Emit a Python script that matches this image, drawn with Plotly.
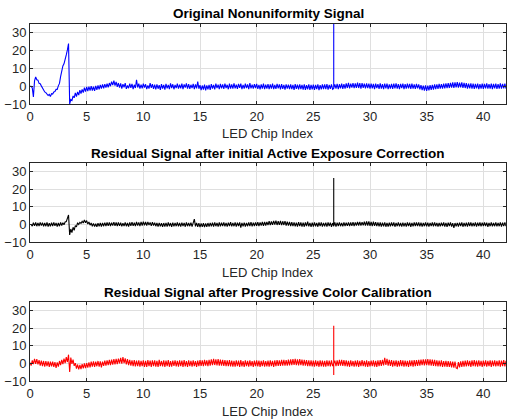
import plotly.graph_objects as go

# ---------------- data ----------------
# LED chip index, sampled every 0.1 from 0 to 42
led_index = [round(i * 0.1, 1) for i in range(421)]

original_signal = [
    0, 0, -1, -6, 3, 5.2, 3.6, 3.4, 1.6, 1.4,
    0.2, -1.2, -1.6, -3.2, -3.6, -4.8, -5.2, -4.6, -5.8, -4.2,
    -4.4, -3.2, -3.0, -1.8, -1.8, 0.2, 1.6, 5.4, 8.6, 11.4,
    12.6, 16.2, 17.6, 20.4, 24, -10, -7.5, -8, -5.5, -6.5,
    -3.8, -5.8, -3.2, -5.0, -2.2, -4.2, -1.8, -3.6, -0.8, -3.0,
    -0.4, -2.8, -0.2, -2.5, 0.0, -2.4, -0.3, -2.6, 0.2, -2.0,
    0.4, -1.8, 0.8, -1.4, 1.0, -1.2, 1.2, -0.8, 1.4, -0.6,
    1.8, 0.0, 2.6, 0.6, 3.2, 0.4, 2.4, -0.4, 1.8, -0.8,
    1.6, -1.3, 1.2, -0.6, 1.8, -1.5, 0.4, -1.1, 1.5, -0.9,
    1.3, -1.6, 0.8, -1.0, 3.6, -0.7, 1.4, -1.4, 0.9, -1.2,
    1.5, -0.8, 1.1, -1.6, 0.5, -1.3, 1.7, -0.9, 1.2, -1.5,
    0.9, -1.8, 1.0, -1.4, 0.6, -2.0, 1.2, -1.3, 0.7, -1.9,
    1.3, -1.2, 0.8, -1.6, 1.6, -1.0, 1.1, -1.7, 0.7, -1.1,
    1.5, -1.4, 0.9, -1.2, 1.4, -1.6, 1.0, -0.8, 1.6, -1.3,
    1.2, -1.5, 0.8, -1.1, 1.3, -1.6, 1.0, -1.2, 2.6, -1.4,
    0.6, -2.2, 0.4, -1.9, 0.9, -2.4, 0.5, -1.7, 0.8, -2.0,
    1.2, -1.4, 0.7, -1.8, 1.4, -1.1, 0.9, -1.6, 1.3, -1.2,
    1.0, -1.5, 1.4, -1.0, 0.8, -1.7, 1.5, -1.3, 1.1, -1.4,
    1.6, -1.2, 0.9, -1.5, 1.3, -0.9, 1.4, -1.6, 0.8, -1.3,
    1.5, -1.1, 1.0, -1.6, 1.7, -1.2, 0.9, -1.4, 1.2, -1.0,
    1.3, -1.5, 0.8, -1.8, 1.1, -1.3, 1.4, -1.6, 0.9, -1.4,
    1.2, -1.7, 1.0, -1.3, 1.5, -1.6, 0.7, -1.5, 1.3, -1.2,
    1.0, -1.8, 1.2, -1.5, 0.8, -1.9, 1.1, -1.4, 0.9, -1.7,
    1.1, -1.6, 0.7, -2.0, 1.2, -1.5, 0.9, -1.8, 1.0, -1.6,
    0.8, -1.9, 1.0, -2.1, 0.6, -1.7, 1.1, -2.0, 0.7, -1.8,
    0.9, -2.0, 0.8, -1.6, 1.0, -2.2, 0.6, -1.8, 1.1, -1.7,
    1.0, -1.6, 1.2, -1.9, 0.8, -1.5, 1.1, -1.7, -1.2, 1.0,
    -1.4, 1.3, -1.6, 1.1, -1.2, 1.4, -1.5, 1.2, -1.3, 1.6,
    -1.0, 1.9, -1.2, 1.5, -0.8, 1.8, -1.1, 1.6, -0.9, 2.0,
    -1.0, 1.7, -1.3, 1.8, -0.9, 1.5, -1.2, 1.6, -1.1, 1.4,
    -1.4, 1.5, -1.2, 1.3, -1.6, 1.4, -1.1, 1.2, -1.5, 1.6,
    -1.3, 1.2, -1.7, 1.4, -1.2, 1.5, -1.6, 1.1, -1.4, 1.3,
    -1.5, 1.4, -1.2, 1.6, -1.3, 1.2, -1.7, 1.3, -1.1, 1.5,
    -1.6, 1.2, -1.4, 1.5, -1.2, 1.3, -1.5, 1.4, -1.3, 1.1,
    -1.5, 1.3, -1.2, 1.0, -1.8, 0.6, -2.2, 0.4, -2.5, 0.5,
    -2.6, 0.3, -2.4, 0.6, -2.1, 0.8, -1.9, 1.0, -1.7, 1.1,
    -1.5, 1.3, -1.4, 1.2, -1.3, 1.5, -1.2, 1.6, -1.0, 1.7,
    -1.0, 1.9, -0.8, 2.1, -0.9, 2.2, -0.7, 2.3, -0.8, 2.0,
    -0.6, 2.2, -0.9, 1.9, -1.0, 1.7, -1.3, 1.5, -1.2, 1.6,
    -1.4, 1.4, -1.5, 1.3, -1.2, 1.5, -1.6, 1.2, -1.3, 1.4,
    -1.5, 1.3, -1.2, 1.6, -1.4, 1.2, -1.3, 1.5, -1.6, 1.3,
    -1.2, 1.4, -1.5, 1.2, -1.3, 1.6, -1.4, 1.3, -1.2, 1.5,
    -1.3]

active_residual = [
    0.0, 0.0, -1.0, 1.0, -0.8, 1.1, -1.0, 0.9, -0.9, 1.2,
    -0.7, 1.0, -1.1, 0.8, -1.0, 1.1, -1.2, 0.7, -1.1, 1.0,
    -0.9, 1.2, -0.8, 0.9, -1.2, 0.8, -1.0, 1.1, -0.6, 1.0,
    -0.2, 1.4, 1.6, 3.8, 5.4, -6.0, -2.6, -4.6, -1.6, -3.4,
    -0.6, -1.4, 1.0, 0.0, 1.2, 0.6, 1.8, 0.8, 2.6, 1.0,
    2.2, 0.2, 1.4, -0.4, 0.8, -1.0, 0.6, -1.2, 0.4, -1.3,
    0.7, -1.1, 0.8, -1.2, 0.9, -1.0, 1.0, -0.9, 1.1, -0.8,
    1.2, -0.9, 1.0, -0.7, 1.3, -0.8, 1.1, -0.9, 1.2, -0.8,
    1.0, -1.1, 0.7, -0.9, 1.2, -1.0, 0.8, -1.2, 1.1, -0.8,
    1.3, -0.8, 1.0, -1.0, 1.4, -0.7, 1.2, -0.9, 1.5, -0.6,
    1.6, -0.5, 1.4, -0.7, 1.5, -0.4, 1.2, -0.8, 1.3, -0.6,
    1.0, -1.0, 0.8, -1.2, 0.9, -1.1, 0.7, -1.3, 0.8, -1.2,
    0.9, -1.2, 1.1, -1.0, 0.8, -1.3, 1.0, -1.1, 0.9, -1.0,
    1.1, -1.1, 0.8, -1.2, 1.0, -0.9, 0.9, -1.3, 1.1, -1.0,
    0.9, -1.0, 1.0, -1.2, 0.8, 3.0, -1.1, 0.9, -1.3, 0.8,
    -1.5, 0.6, -1.4, 0.7, -1.5, 0.6, -1.3, 0.8, -1.2, 0.9,
    -1.1, 1.0, -1.2, 1.1, -1.0, 0.9, -1.2, 1.2, -1.1, 1.0,
    -1.0, 1.2, -1.1, 0.9, -1.2, 1.0, -0.9, 1.3, -1.1, 0.9,
    -1.0, 1.1, -1.2, 1.0, -0.9, 1.2, -1.8, 0.9, -1.1, 1.0,
    -1.2, 0.9, -1.0, 1.1, -0.9, 1.3, -1.1, 1.0, -0.9, 1.2,
    -0.8, 1.3, -0.9, 1.2, -0.7, 1.4, -0.8, 1.5, -0.6, 1.4,
    -0.4, 1.9, -0.3, 1.7, -0.2, 2.0, -0.1, 2.1, -0.3, 1.8,
    -0.2, 2.0, -0.4, 1.8, -0.3, 1.9, -0.6, 1.6, -0.7, 1.5,
    -0.9, 1.3, -1.0, 1.2, -1.1, 1.0, -1.2, 1.3, -1.0, 1.1,
    -1.2, 1.0, -1.3, 1.1, -1.0, 1.6, -1.1, 0.9, -1.4, 1.0,
    -1.2, 1.2, -1.1, 0.9, -1.3, 1.1, -1.0, 1.2, -1.2, 0.9,
    -1.1, 1.0, -1.2, 1.1, -0.9, 1.0, -1.3, 0.8, -1.0, 1.1,
    -1.2, 1.0, -0.9, 1.2, -1.0, 0.9, -1.1, 1.1, -0.9, 1.0,
    -0.8, 1.2, -0.9, 1.1, -0.8, 1.3, -0.9, 1.2, -0.7, 1.4,
    -0.6, 1.5, -0.7, 1.3, -0.5, 1.6, -0.7, 1.7, -0.6, 1.8,
    -0.8, 1.4, -0.9, 1.6, -0.8, 1.3, -1.0, 1.2, -1.1, 1.1,
    -1.2, 1.0, -1.1, 1.2, -1.3, 0.9, -1.2, 1.0, -1.1, 1.1,
    -1.0, 1.1, -1.3, 0.9, -1.0, 1.2, -1.1, 0.8, -1.2, 1.0,
    -1.1, 0.9, -1.2, 1.1, -1.0, 1.0, -1.3, 0.9, -1.1, 1.2,
    -0.9, 1.1, -1.0, 1.2, -1.1, 1.0, -1.2, 0.9, -1.0, 1.1,
    -1.1, 1.0, -1.2, 0.9, -0.9, 1.1, -1.1, 1.2, -1.0, 0.9,
    -1.2, 0.8, -1.1, 1.0, -1.0, 1.1, -1.2, 0.9, -1.3, 1.0,
    -1.0, 1.2, -1.2, 0.7, -2.0, 0.8, -1.1, 0.9, -1.2, 1.0,
    -1.0, 1.1, -1.3, 0.9, -1.1, 1.0, -1.2, 1.2, -0.9, 1.1,
    -1.1, 0.9, -1.0, 1.2, -1.2, 1.0, -0.9, 1.1, -1.1, 1.0,
    -1.0, 1.1, -0.9, 1.0, -1.3, 0.9, -1.0, 1.1, -1.1, 0.8,
    -1.0, 1.1, -1.1, 0.9, -1.0, 1.2, -1.2, 1.0, -0.9, 1.1,
    -1.0]

progressive_residual = [
    0.5, -1.2, 1.8, -0.4, 2.6, -0.2, 2.4, -0.5, 1.9, -1.2,
    1.6, -1.5, 1.4, -1.8, 1.3, -1.6, 1.2, -1.9, 1.0, -1.7,
    1.1, -1.9, 0.8, -2.6, 0.6, -1.8, 1.4, -1.0, 2.0, -0.4,
    2.8, 0.2, 3.6, 0.8, 5.0, -4.8, 3.4, -0.2, 2.2, -1.4,
    0.2, -3.0, -0.6, -3.4, -0.8, -3.2, -0.4, -2.8, 0.0, -2.6,
    0.2, -2.4, 0.6, -2.2, 1.0, -1.8, 1.2, -2.0, 1.1, -1.6,
    1.4, -1.8, 1.2, -2.2, 1.0, -1.4, 1.6, -1.2, 1.8, -1.0,
    2.0, -0.9, 2.2, -0.7, 2.4, -0.5, 2.6, -0.4, 2.8, 0.0,
    3.2, -0.1, 3.6, 0.2, 2.9, -0.5, 2.4, -0.9, 2.1, -1.2,
    1.8, -1.5, 1.9, -1.7, 1.6, -1.6, 1.8, -1.8, 1.5, -1.6,
    1.7, -1.9, 1.5, -2.0, 1.9, -1.6, 1.6, -2.0, 1.8, -1.5,
    1.7, -1.8, 1.5, -2.0, 2.0, -1.5, 1.4, -1.7, 1.7, -1.9,
    1.6, -1.6, 1.9, -1.9, 1.3, -1.8, 1.6, -1.4, 1.8, -1.7,
    1.5, -1.8, 1.8, -1.6, 1.6, -2.0, 1.9, -1.7, 1.4, -1.9,
    1.7, -1.6, 1.5, -1.8, 1.8, -1.5, 1.3, -2.0, 1.6, -1.6,
    1.9, -1.4, 1.7, -1.6, 2.0, -1.3, 1.8, -1.5, 2.1, -1.2,
    2.4, -1.0, 2.6, -0.9, 2.3, -1.1, 2.5, -1.2, 2.2, -1.3,
    2.0, -1.4, 1.9, -1.5, 1.7, -1.6, 1.9, -1.7, 1.6, -1.8,
    1.5, -1.8, 1.8, -1.6, 1.6, -2.0, 1.9, -1.7, 1.4, -1.9,
    1.7, -1.6, 1.5, -1.8, 1.8, -1.5, 1.3, -2.0, 1.6, -1.6,
    1.8, -1.7, 1.6, -1.9, 1.5, -1.6, 1.7, -1.8, 1.4, -1.7,
    1.6, -1.8, 1.8, -1.5, 1.5, -1.9, 1.7, -1.6, 1.9, -1.4,
    1.8, -1.4, 2.0, -1.2, 2.1, -1.3, 1.9, -1.2, 2.2, -1.1,
    2.3, -1.0, 2.5, -0.9, 2.6, -1.0, 2.4, -1.1, 2.5, -1.0,
    2.2, -1.2, 2.0, -1.3, 1.9, -1.5, 1.8, -1.6, 1.7, -1.7,
    1.6, -1.8, 1.7, -1.6, 1.5, -1.9, 1.8, -1.7, 1.6, -1.8,
    1.5, -1.8, 1.7, -1.6, 1.6, -1.7, 1.8, -1.5, 0.0, 1.6,
    -1.6, 1.8, -1.4, 2.0, -1.3, 2.1, -1.4, 1.9, -1.5, 1.7,
    -1.7, 1.5, -1.9, 1.8, -1.6, 1.4, -1.8, 1.6, -1.7, 1.7,
    -1.9, 1.5, -1.6, 1.9, -1.6, 1.5, -1.8, 1.7, -1.9, 1.4,
    -1.7, 1.6, -1.6, 1.8, -1.8, 1.5, -1.9, 1.7, -1.6, 1.9,
    -1.4, 2.0, -1.1, 3.2, -0.9, 2.6, -1.2, 2.1, -1.4, 1.9,
    -1.8, 1.6, -1.6, 1.8, -1.9, 1.5, -1.7, 1.9, -1.5, 1.7,
    -1.8, 1.6, -1.7, 1.5, -1.9, 1.8, -1.6, 1.7, -1.8, 1.9,
    -1.5, 1.9, -1.4, 2.1, -1.2, 2.2, -1.0, 2.4, -1.1, 2.3,
    -1.0, 2.5, -1.1, 2.4, -1.2, 2.2, -1.4, 2.0, -1.5, 1.8,
    -1.7, 1.6, -1.7, 1.7, -1.9, 1.4, -1.8, 1.5, -1.9, 1.3,
    -2.0, 1.2, -2.2, 1.1, -2.4, 1.0, -2.6, -3.0, 0.8, -2.2,
    1.2, -2.0, 1.5, -1.8, 1.6, -1.7, 1.8, -1.6, 1.5, -1.9,
    1.7, -1.5, 1.9, -1.7, 1.6, -1.8, 1.8, -1.6, 1.5, -1.9,
    1.6, -1.6, 1.8, -1.8, 1.5, -1.5, 1.7, -1.9, 1.6, -1.6,
    1.7, -1.7, 1.5, -1.6, 1.8, -1.8, 1.6, -1.5, 1.9, -1.7,
    1.5]

# single-sample outlier at chip index 26.8 (top / bottom of the spike)
spike_x = 26.8
spike_top = {"original": 40.0, "active": 26.5, "progressive": 21.5}
spike_bottom = {"original": -1.2, "active": -1.0, "progressive": -6.6}

titles = ["Original Nonuniformity Signal",
          "Residual Signal after initial Active Exposure Correction",
          "Residual Signal after Progressive Color Calibration"]
x_label = "LED Chip Index"
x_ticks = [0, 5, 10, 15, 20, 25, 30, 35, 40]
y_ticks = [-10, 0, 10, 20, 30]

# ---------------- build ----------------
def with_spike(xs, ys, top, bottom):
    ox, oy = [], []
    for xv, yv in zip(xs, ys):
        ox.append(xv)
        oy.append(yv)
        if abs(xv - spike_x) < 1e-9:
            ox += [xv, xv, xv]
            oy += [top, bottom, yv]
    return ox, oy

series = [
    ("original", original_signal, "#0000FF"),
    ("active", active_residual, "#000000"),
    ("progressive", progressive_residual, "#FF0000"),
]

W, H = 507, 420
L, R = 30, 1
# panel (top, bottom) in pixels
panels = [(24, 104), (163, 242), (302, 381)]
title_y = [13, 153, 292]
xlabel_y = [133, 272, 411]

fig = go.Figure()
axis_col = "#262626"
grid_col = "#dfdfdf"
font_fam = "Liberation Sans, Arial, sans-serif"

for i, (key, vals, col) in enumerate(series):
    xs, ys = with_spike(led_index, vals, spike_top[key], spike_bottom[key])
    n = "" if i == 0 else str(i + 1)
    fig.add_trace(go.Scatter(x=xs, y=ys, mode="lines",
                             line=dict(color=col, width=1.1),
                             xaxis="x" + n, yaxis="y" + n,
                             showlegend=False, hoverinfo="skip"))
    top, bot = panels[i]
    dom = [1 - bot / H, 1 - top / H]
    common = dict(showline=True, linecolor=axis_col, linewidth=1,
                  mirror="ticks", ticks="inside", ticklen=3,
                  tickcolor=axis_col, showgrid=True, gridcolor=grid_col,
                  gridwidth=1, zeroline=False, automargin=False,
                  tickfont=dict(family=font_fam, size=13, color=axis_col))
    fig.update_layout(**{
        "xaxis" + n: dict(domain=[0, 1], range=[0, 42], tickvals=x_ticks,
                          anchor="y" + n, **common),
        "yaxis" + n: dict(domain=dom, range=[-10, 35], tickvals=y_ticks,
                          anchor="x" + n, **common),
    })
    fig.add_annotation(text="<b>" + titles[i] + "</b>", xref="paper",
                       yref="paper", x=0.5, y=1 - title_y[i] / H,
                       xanchor="center", yanchor="middle", showarrow=False,
                       font=dict(family=font_fam, size=13.5, color="#000000"))
    fig.add_annotation(text=x_label, xref="paper", yref="paper", x=0.5,
                       y=1 - xlabel_y[i] / H, xanchor="center",
                       yanchor="middle", showarrow=False,
                       font=dict(family=font_fam, size=13, color=axis_col))

fig.update_layout(width=W, height=H, margin=dict(l=L, r=R, t=0, b=0),
                  paper_bgcolor="white", plot_bgcolor="white")

fig.write_html("out.html", config={"displayModeBar": False})

# remove the browser's default page margin so the figure sits at (0, 0)
with open("out.html", encoding="utf-8") as fh:
    page = fh.read()
page = page.replace("<body>", '<body style="margin:0;padding:0;overflow:hidden">', 1)
with open("out.html", "w", encoding="utf-8") as fh:
    fh.write(page)
